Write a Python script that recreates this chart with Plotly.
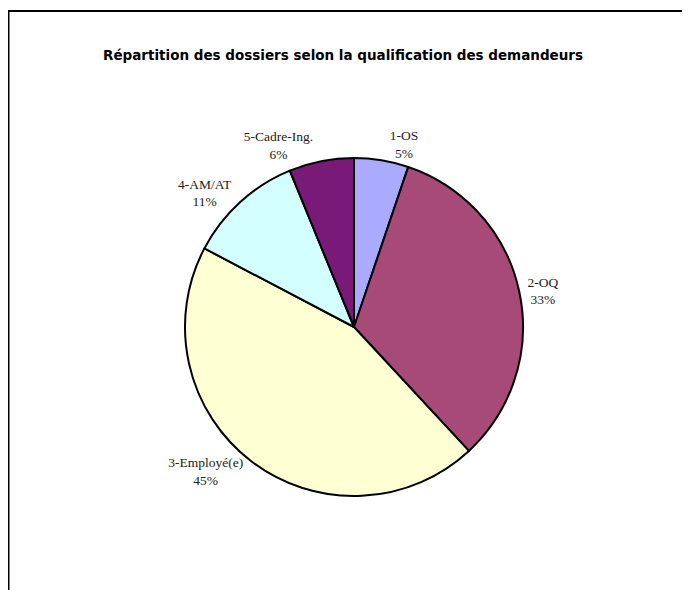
import plotly.graph_objects as go

categories = ["1-OS", "2-OQ", "3-Employé(e)", "4-AM/AT", "5-Cadre-Ing."]
values = [5.2, 32.9, 44.6, 11.1, 6.2]
colors = ["#AAAAFF", "#A84A78", "#FFFFD4", "#D4FFFF", "#7A1A78"]
title_text = "Répartition des dossiers selon la qualification des demandeurs"

W, H = 690, 590
# page body adds an 8px offset; positions below are in figure pixels
cx, cy, r = 346, 319, 169

fig = go.Figure(go.Pie(
    labels=categories,
    values=values,
    sort=False,
    direction="clockwise",
    rotation=0,
    marker=dict(colors=colors, line=dict(color="#000000", width=2)),
    textposition="outside",
    texttemplate="%{label}<br>%{percent:.0%}",
    textfont=dict(family="Liberation Serif", size=13.5, color="#222222"),
    hoverinfo="label+percent",
    showlegend=False,
    domain=dict(x=[(cx - r) / W, (cx + r) / W],
                y=[(H - cy - r) / H, (H - cy + r) / H]),
))

fig.update_layout(
    width=W, height=H,
    margin=dict(l=0, r=0, t=0, b=0),
    paper_bgcolor="white",
    plot_bgcolor="white",
    title=dict(
        text="<b>" + title_text + "</b>",
        x=335 / W, xanchor="center",
        y=1 - 47 / H, yanchor="middle",
        font=dict(family="DejaVu Sans", size=13.5, color="#000000"),
    ),
    shapes=[
        dict(type="line", xref="paper", yref="paper",
             x0=0, x1=1.01, y0=1 - 3 / H, y1=1 - 3 / H,
             line=dict(color="#000000", width=2)),
        dict(type="line", xref="paper", yref="paper",
             x0=0, x1=0, y0=1 - 3 / H, y1=-0.01,
             line=dict(color="#000000", width=3)),
    ],
)

fig.write_html("out.html")
